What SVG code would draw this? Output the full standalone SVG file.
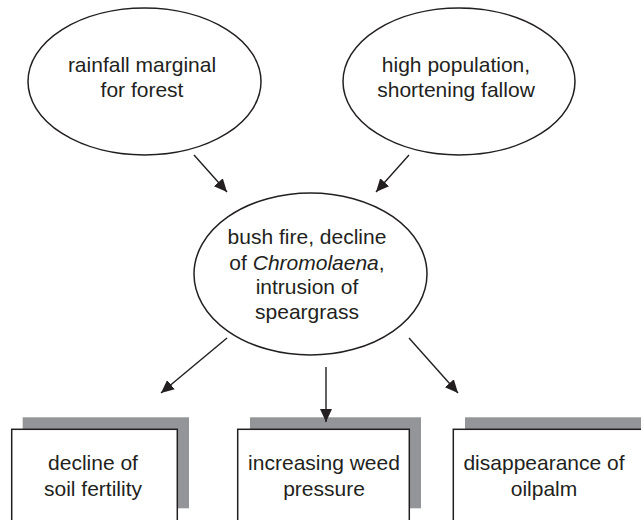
<svg xmlns="http://www.w3.org/2000/svg" width="641" height="520" viewBox="0 0 641 520">
<style>
.n{fill:#fff;stroke:#231f20;stroke-width:1.5}
.sh{fill:#939598}
.t{font-family:"Liberation Sans",Arial,sans-serif;font-size:21px;fill:#231f20;text-anchor:middle}
.c{stroke:#231f20;stroke-width:1.4;fill:none;marker-end:url(#ah)}
</style>
<defs>
<marker id="ah" markerUnits="userSpaceOnUse" markerWidth="16" markerHeight="14" refX="13" refY="6" orient="auto">
<path d="M0,0 L13,6 L0,12 Z" fill="#231f20"/>
</marker>
</defs>
<g id="node-rainfall">
<ellipse class="n" cx="144.5" cy="81.5" rx="116.5" ry="73.5"/>
<text class="t" x="142" y="72">rainfall marginal</text>
<text class="t" x="142" y="97">for forest</text>
</g>
<g id="node-population">
<ellipse class="n" cx="459" cy="81.5" rx="116" ry="73.5"/>
<text class="t" x="456" y="72">high population,</text>
<text class="t" x="456" y="97">shortening fallow</text>
</g>
<g id="node-bushfire">
<ellipse class="n" cx="310.5" cy="274" rx="116.5" ry="81"/>
<text class="t" x="307" y="244">bush fire, decline</text>
<text class="t" x="307" y="269.5">of <tspan font-style="italic">Chromolaena</tspan>,</text>
<text class="t" x="307" y="294">intrusion of</text>
<text class="t" x="307" y="318.5">speargrass</text>
</g>
<g id="node-soil">
<rect class="sh" x="22.7" y="417.3" width="166.3" height="91"/>
<rect class="n" x="11.7" y="429.3" width="165.6" height="100"/>
<text class="t" x="93" y="470">decline of</text>
<text class="t" x="93" y="496">soil fertility</text>
</g>
<g id="node-weed">
<rect class="sh" x="250" y="417.3" width="171" height="91"/>
<rect class="n" x="237.7" y="429.3" width="171.6" height="100"/>
<text class="t" x="324" y="470">increasing weed</text>
<text class="t" x="324" y="496">pressure</text>
</g>
<g id="node-oilpalm">
<rect class="sh" x="465" y="417.3" width="190" height="91"/>
<rect class="n" x="453.3" y="429.3" width="200" height="100"/>
<text class="t" x="544" y="470">disappearance of</text>
<text class="t" x="544" y="496">oilpalm</text>
</g>
<g id="connectors">
<line class="c" x1="194" y1="155" x2="227" y2="192"/>
<line class="c" x1="409" y1="155" x2="376" y2="192"/>
<line class="c" x1="227" y1="338" x2="161" y2="393"/>
<line class="c" x1="409" y1="338" x2="458" y2="393"/>
<line class="c" x1="326" y1="367" x2="326" y2="422"/>
</g>
</svg>
